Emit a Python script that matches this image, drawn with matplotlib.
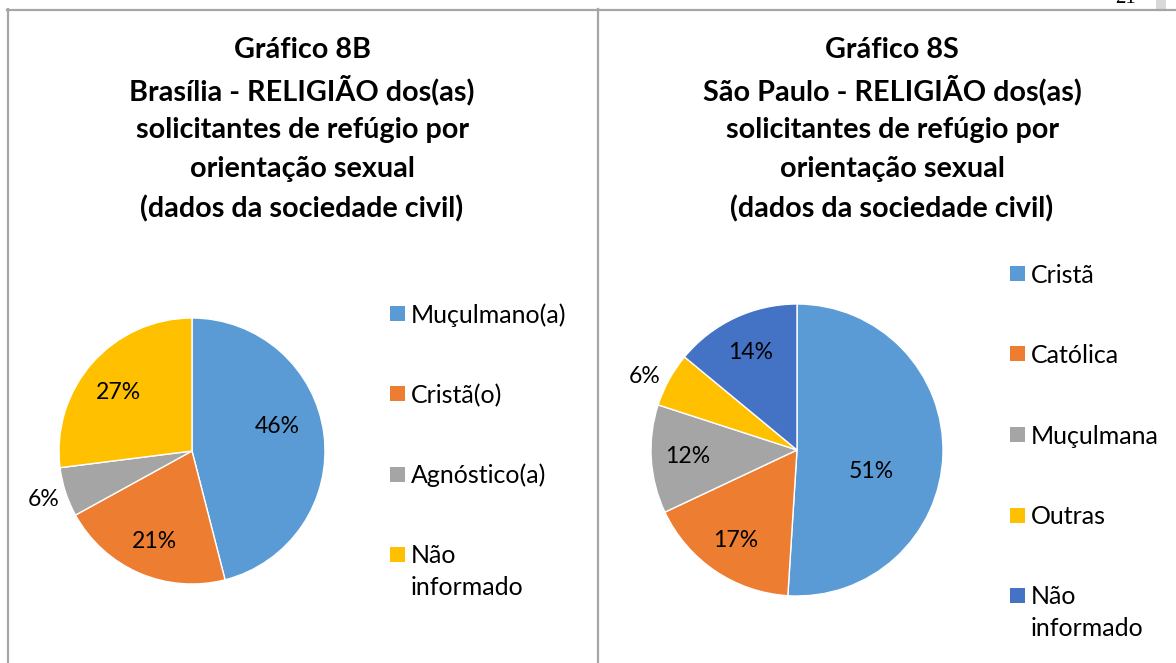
import matplotlib
matplotlib.use("Agg")
import matplotlib.pyplot as plt
from matplotlib.patches import Rectangle
from matplotlib.lines import Line2D
import numpy as np

W, H = 1176, 663

# ---------------- data ----------------
bsb_title = ["Gráfico 8B", "Brasília - RELIGIÃO dos(as)", "solicitantes de refúgio por",
             "orientação sexual", "(dados da sociedade civil)"]
bsb_categories = ["Muçulmano(a)", "Cristã(o)", "Agnóstico(a)", "Não\ninformado"]
bsb_values = [46, 21, 6, 27]

sp_title = ["Gráfico 8S", "São Paulo - RELIGIÃO dos(as)", "solicitantes de refúgio por",
            "orientação sexual", "(dados da sociedade civil)"]
sp_categories = ["Cristã", "Católica", "Muçulmana", "Outras", "Não\ninformado"]
sp_values = [51, 17, 12, 6, 14]

# ---------------- style ----------------
bsb_colors = ["#5B9BD5", "#ED7D31", "#A5A5A5", "#FFC000"]
sp_colors = ["#5B9BD5", "#ED7D31", "#A5A5A5", "#FFC000", "#4472C4"]
bsb_label_dist = [0.67, 0.74, 1.17, 0.71]
bsb_label_shift = [9, 1, 0, 3]
sp_label_dist = [0.53, 0.75, 0.75, 1.16, 0.74]
sp_label_shift = [-14, 0, 0, 3, 0]

FONT = "Lato"
PCT_PT = 16.6
LEG_PT = 18.0
TITLE_PT = 20.7

fig = plt.figure(figsize=(W / 100, H / 100), dpi=100)
fig.patch.set_facecolor("white")


def fx(x):
    return x / W


def fy(y):
    return 1 - y / H


def draw_panel(title_lines, title_cx, cats, vals, colors, cx, cy, r,
               ldist, lshift, leg_x, leg_y0, leg_step):
    # title
    for i, line in enumerate(title_lines):
        fig.text(fx(title_cx), fy(50 + i * 39.8), line, ha="center", va="center",
                 fontsize=TITLE_PT, fontweight="bold", family=FONT, color="black")
    # pie
    ax = fig.add_axes([fx(cx - r), fy(cy + r), 2 * r / W, 2 * r / H])
    wedges, texts, autotexts = ax.pie(
        vals, colors=colors, startangle=90, counterclock=False, radius=1,
        wedgeprops=dict(edgecolor="white", linewidth=1.0),
        autopct=lambda p: f"{p:.0f}%", pctdistance=0.7,
        textprops=dict(fontsize=PCT_PT, family=FONT, color="black"))
    for w, t, d, s in zip(wedges, autotexts, ldist, lshift):
        mid = np.deg2rad((w.theta1 + w.theta2) / 2 + s)
        t.set_position((d * np.cos(mid), d * np.sin(mid)))
        t.set_ha("center")
        t.set_va("center")
        t.set_clip_on(False)
    ax.set_xlim(-1, 1)
    ax.set_ylim(-1, 1)
    ax.set_aspect("auto")
    ax.axis("off")
    # legend
    for i, (cat, col) in enumerate(zip(cats, colors)):
        yc = leg_y0 + i * leg_step
        fig.patches.append(Rectangle((fx(leg_x), fy(yc + 7.5)), 15 / W, 15 / H,
                                     transform=fig.transFigure, facecolor=col,
                                     edgecolor="none"))
        for k, part in enumerate(cat.split("\n")):
            fig.text(fx(leg_x + 21), fy(yc + 1.5 + k * 32), part, ha="left", va="center",
                     fontsize=LEG_PT, family=FONT, color="black")


draw_panel(bsb_title, 302, bsb_categories, bsb_values, bsb_colors,
           192, 451, 133, bsb_label_dist, bsb_label_shift, 390, 313.5, 80.3)
draw_panel(sp_title, 892, sp_categories, sp_values, sp_colors,
           797, 450, 146, sp_label_dist, sp_label_shift, 1010, 273.5, 80.5)

# borders
border = "#A6A6A6"
fig.lines.append(Line2D([fx(7), fx(1176)], [fy(9.5), fy(9.5)], transform=fig.transFigure,
                        color=border, linewidth=1.6))
fig.lines.append(Line2D([fx(8), fx(8)], [fy(9), fy(663)], transform=fig.transFigure,
                        color=border, linewidth=1.6))
fig.lines.append(Line2D([fx(597.5), fx(597.5)], [fy(9), fy(663)], transform=fig.transFigure,
                        color=border, linewidth=1.6))
fig.patches.append(Rectangle((fx(1156), fy(9)), 10 / W, 9 / H, transform=fig.transFigure,
                             facecolor="#D9D9D9", edgecolor="none"))
fig.text(fx(1126), fy(3), "21", ha="center", va="baseline", fontsize=15,
         family="Liberation Serif", color="black")

fig.savefig("out.png", dpi=100, facecolor="white")
